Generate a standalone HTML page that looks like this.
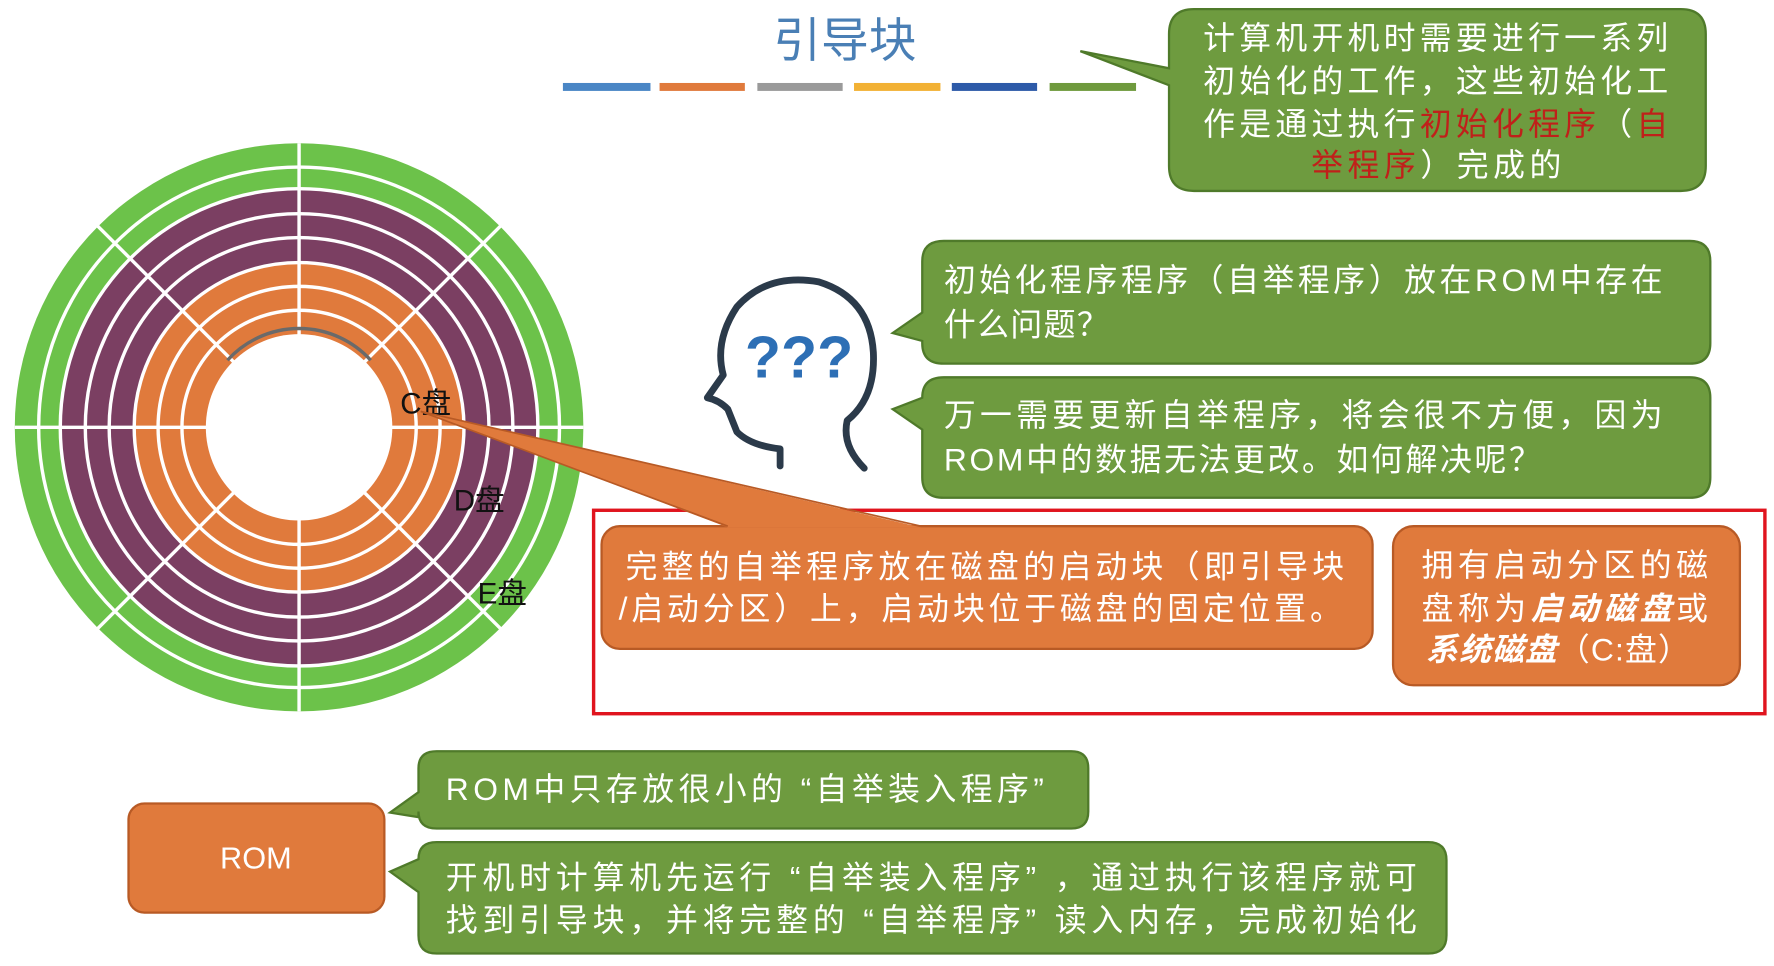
<!DOCTYPE html>
<html><head><meta charset="utf-8"><style>
html,body{margin:0;padding:0;background:#fff;}
svg{display:block;}
text{font-family:"Liberation Sans","Noto Sans CJK SC",sans-serif;}
</style></head><body>
<svg width="1774" height="966" viewBox="0 0 1560 850" preserveAspectRatio="none" xmlns="http://www.w3.org/2000/svg">
<rect width="1560" height="850" fill="#fff"/>
<text x="743" y="50" font-size="42" fill="#4a7fb5" text-anchor="middle">引导块</text>
<rect x="495" y="73" width="77" height="7" fill="#4a86c5"/>
<rect x="580" y="73" width="75" height="7" fill="#e07a3c"/>
<rect x="666" y="73" width="75" height="7" fill="#9a9a9a"/>
<rect x="751" y="73" width="76" height="7" fill="#f2b134"/>
<rect x="837" y="73" width="75" height="7" fill="#2d5aa8"/>
<rect x="923" y="73" width="76" height="7" fill="#6f9a3d"/>

<g>
<circle cx="263" cy="376" r="250" fill="#6cc24a"/>
<circle cx="263" cy="376" r="210" fill="#7b3f62"/>
<circle cx="263" cy="376" r="145" fill="#e07a3c"/>
<circle cx="263" cy="376" r="82" fill="#fff"/>
<g fill="none" stroke="#fff" stroke-width="3">
<circle cx="263" cy="376" r="229"/>
<circle cx="263" cy="376" r="210"/>
<circle cx="263" cy="376" r="188"/>
<circle cx="263" cy="376" r="167"/>
<circle cx="263" cy="376" r="145"/>
<circle cx="263" cy="376" r="124"/>
<circle cx="263" cy="376" r="103"/>
<line x1="263" y1="126" x2="263" y2="626"/>
<line x1="13" y1="376" x2="513" y2="376"/>
<line x1="86" y1="199" x2="440" y2="553"/>
<line x1="440" y1="199" x2="86" y2="553"/>
</g>
<path d="M200,317 A85,85 0 0 1 326,317" fill="none" stroke="#6a6a6a" stroke-width="3"/>
<text x="352" y="364" font-size="26" fill="#111">C盘</text>
<text x="399" y="449" font-size="26" fill="#111">D盘</text>
<text x="420" y="531" font-size="26" fill="#111">E盘</text>
</g>

<path d="M1050,8 H1478 Q1500,8 1500,30 V146 Q1500,168 1478,168 H1050 Q1028,168 1028,146 V75 L950,45 L1028,60 V30 Q1028,8 1050,8 Z" fill="#6e9b3f" stroke="#4f7a2a" stroke-width="2"/>
<g font-size="28" fill="#fff">
<text x="1058" y="43" textLength="409" lengthAdjust="spacing">计算机开机时需要进行一系列</text>
<text x="1058" y="81" textLength="409" lengthAdjust="spacing">初始化的工作，这些初始化工</text>
<text x="1058" y="119" textLength="409" lengthAdjust="spacing">作是通过执行<tspan fill="#c0201a">初始化程序</tspan>（<tspan fill="#c0201a">自</tspan></text>
<text x="1153" y="155" textLength="220" lengthAdjust="spacing"><tspan fill="#c0201a">举程序</tspan>）完成的</text>
</g>

<g fill="none" stroke="#2b3a4a" stroke-width="6" stroke-linecap="round" stroke-linejoin="round">
<path d="M686,410 L686,395 Q660,392 648,380 L640,360 Q632,352 622,350 L636,330 Q628,300 648,270 Q675,240 720,248 Q765,262 768,310 Q770,350 745,370 Q740,392 760,412"/>
</g>
<text x="655" y="332" font-size="52" font-weight="bold" fill="#2d6fb5">???</text>

<path d="M830,212 H1486 Q1504,212 1504,230 V302 Q1504,320 1486,320 H830 Q811,320 811,302 V300 L785,293 L811,275 V230 Q811,212 830,212 Z" fill="#6e9b3f" stroke="#4f7a2a" stroke-width="2"/>
<g font-size="28" fill="#fff">
<text x="830" y="256" textLength="632" lengthAdjust="spacing">初始化程序程序（自举程序）放在ROM中存在</text>
<text x="830" y="295" textLength="145" lengthAdjust="spacing">什么问题？</text>
</g>
<path d="M830,332 H1486 Q1504,332 1504,350 V420 Q1504,438 1486,438 H830 Q811,438 811,420 V378 L785,360 L811,350 Q811,332 830,332 Z" fill="#6e9b3f" stroke="#4f7a2a" stroke-width="2"/>
<g font-size="28" fill="#fff">
<text x="830" y="375" textLength="632" lengthAdjust="spacing">万一需要更新自举程序，将会很不方便，因为</text>
<text x="830" y="414" textLength="525" lengthAdjust="spacing">ROM中的数据无法更改。如何解决呢？</text>
</g>

<rect x="522" y="449" width="1030" height="179" fill="none" stroke="#e0141e" stroke-width="3"/>

<rect x="529" y="463" width="678" height="108" rx="16" fill="#e07a3c" stroke="#b85a25" stroke-width="2"/>
<polygon points="370,362 640,464 810,464" fill="#e07a3c"/>
<line x1="370" y1="362" x2="640" y2="463" stroke="#b85a25" stroke-width="1.5"/>
<line x1="370" y1="362" x2="810" y2="463" stroke="#b85a25" stroke-width="1.5"/>
<g font-size="28" fill="#fff">
<text x="550" y="508" textLength="632" lengthAdjust="spacing">完整的自举程序放在磁盘的启动块（即引导块</text>
<text x="544" y="545" textLength="636" lengthAdjust="spacing">/启动分区）上，启动块位于磁盘的固定位置。</text>
</g>
<rect x="1225" y="463" width="305" height="140" rx="18" fill="#e07a3c" stroke="#b85a25" stroke-width="2"/>
<g font-size="28" fill="#fff">
<text x="1250" y="507" textLength="252" lengthAdjust="spacing">拥有启动分区的磁</text>
<text x="1250" y="545" textLength="252" lengthAdjust="spacing">盘称为<tspan font-style="italic" font-weight="bold">启动磁盘</tspan>或</text>
<text x="1254" y="581" textLength="232" lengthAdjust="spacing"><tspan font-style="italic" font-weight="bold">系统磁盘</tspan>（C:盘）</text>
</g>

<rect x="113" y="707" width="225" height="96" rx="14" fill="#e07a3c" stroke="#b85a25" stroke-width="2"/>
<text x="225" y="764" font-size="27" fill="#fff" text-anchor="middle">ROM</text>

<path d="M384,661 H942 Q957,661 957,676 V714 Q957,729 942,729 H384 Q368,729 368,714 V719 L343,715 L368,697 V676 Q368,661 384,661 Z" fill="#6e9b3f" stroke="#4f7a2a" stroke-width="2"/>
<text x="392" y="704" font-size="28" fill="#fff" textLength="526" lengthAdjust="spacing">ROM中只存放很小的 “自举装入程序”</text>

<path d="M384,741 H1256 Q1272,741 1272,757 V823 Q1272,839 1256,839 H384 Q368,839 368,823 V785 L343,767 L368,756 Q368,741 384,741 Z" fill="#6e9b3f" stroke="#4f7a2a" stroke-width="2"/>
<g font-size="28" fill="#fff">
<text x="392" y="782" textLength="854" lengthAdjust="spacing">开机时计算机先运行 “自举装入程序” ，通过执行该程序就可</text>
<text x="392" y="819" textLength="854" lengthAdjust="spacing">找到引导块，并将完整的 “自举程序” 读入内存，完成初始化</text>
</g>
</svg>
</body></html>
